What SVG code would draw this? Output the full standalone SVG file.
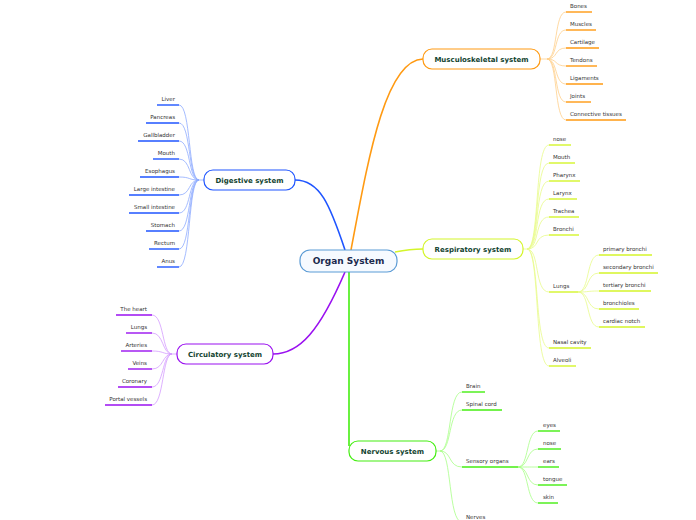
<svg xmlns="http://www.w3.org/2000/svg" width="696" height="520" viewBox="0 0 696 520">
<style>
text{font-family:"DejaVu Sans","Liberation Sans",sans-serif}
.root{fill:#f6faff;stroke:#5b9bd5;stroke-width:1.2}
.rt{font-size:9px;font-weight:bold;fill:#1b2a4e;text-anchor:middle}
.nt{font-size:7px;font-weight:bold;fill:#12432f;text-anchor:middle}
.lt{font-size:5.5px;fill:#333}
.le{text-anchor:end}
.box{fill:#fff;stroke-width:1.2}
.c{fill:none}
.m{stroke-width:1.6}
.l{stroke-width:0.8}
.u{stroke-width:1.4}
.or{stroke:#ff9a12}.orl{stroke:#ffcf8a}
.yg{stroke:#d4f52a}.ygl{stroke:#e8fb8a}
.bl{stroke:#1f55ff}.bll{stroke:#8eabff}
.pu{stroke:#9a10f0}.pul{stroke:#d49cff}
.gr{stroke:#44ee11}.grl{stroke:#a8ff88}
</style>
<g id="connectors" class="c">
<path class="m or" d="M351,250 C368,160 385,60 423,59"/>
<path class="m bl" d="M345,250 C330,205 320,180 295,180"/>
<path class="m yg" d="M395,252 C405,250 410,249 423,249"/>
<path class="m pu" d="M345,272 C320,330 300,354 273,354"/>
<path class="m gr" d="M349,272 L349,446"/>
<g class="orl l">
<path d="M540,59 H547"/>
<path d="M547,59 C558,59 554,12 566,12"/>
<path d="M547,59 C558,59 554,30 566,30"/>
<path d="M547,59 C558,59 554,48 566,48"/>
<path d="M547,59 C558,59 554,66 566,66"/>
<path d="M547,59 C558,59 554,84 566,84"/>
<path d="M547,59 C558,59 554,102 566,102"/>
<path d="M547,59 C558,59 554,120 566,120"/>
</g>
<g class="ygl l">
<path d="M523,249 H527"/>
<path d="M527,249 C540,249 534,145 549,145"/>
<path d="M527,249 C540,249 534,163 549,163"/>
<path d="M527,249 C540,249 534,181 549,181"/>
<path d="M527,249 C540,249 534,199 549,199"/>
<path d="M527,249 C540,249 534,217 549,217"/>
<path d="M527,249 C540,249 534,235 549,235"/>
<path d="M527,249 C540,249 534,292 549,292"/>
<path d="M527,249 C540,249 534,348 549,348"/>
<path d="M527,249 C540,249 534,366 549,366"/>
<path d="M578,292 C590,292 586,255 599,255"/>
<path d="M578,292 C590,292 586,273 599,273"/>
<path d="M578,292 C590,292 586,291 599,291"/>
<path d="M578,292 C590,292 586,309 599,309"/>
<path d="M578,292 C590,292 586,327 599,327"/>
</g>
<g class="bll l">
<path d="M204,180 H199"/>
<path d="M199,180 C188,180 191,105 179,105"/>
<path d="M199,180 C188,180 191,123 179,123"/>
<path d="M199,180 C188,180 191,141 179,141"/>
<path d="M199,180 C188,180 191,159 179,159"/>
<path d="M199,180 C188,180 191,177 179,177"/>
<path d="M199,180 C188,180 191,195 179,195"/>
<path d="M199,180 C188,180 191,213 179,213"/>
<path d="M199,180 C188,180 191,231 179,231"/>
<path d="M199,180 C188,180 191,249 179,249"/>
<path d="M199,180 C188,180 191,267 179,267"/>
</g>
<g class="pul l">
<path d="M177,354 H172"/>
<path d="M172,354 C162,354 164,315 152,315"/>
<path d="M172,354 C162,354 164,333 152,333"/>
<path d="M172,354 C162,354 164,351 152,351"/>
<path d="M172,354 C162,354 164,369 152,369"/>
<path d="M172,354 C162,354 164,387 152,387"/>
<path d="M172,354 C162,354 164,405 152,405"/>
</g>
<g class="grl l">
<path d="M436,451 H440"/>
<path d="M440,451 C452,451 448,392 462,392"/>
<path d="M440,451 C452,451 448,410 462,410"/>
<path d="M440,451 C452,451 448,467 462,467"/>
<path d="M440,451 C452,451 448,522 462,522"/>
<path d="M518,467 C529,467 526,431 538,431"/>
<path d="M518,467 C529,467 526,449 538,449"/>
<path d="M518,467 C529,467 526,467 538,467"/>
<path d="M518,467 C529,467 526,485 538,485"/>
<path d="M518,467 C529,467 526,503 538,503"/>
</g>
</g>
<g id="root"><rect class="root" x="300" y="250" width="97" height="22" rx="10"/><text class="rt" x="348.5" y="264.2">Organ System</text></g>
<g id="musculoskeletal"><rect class="box or" x="423" y="49" width="117" height="20" rx="9"/><text class="nt" x="481.5" y="61.5">Musculoskeletal system</text></g>
<g id="respiratory"><rect class="box yg" x="423" y="239" width="100" height="20" rx="9"/><text class="nt" x="473" y="251.5">Respiratory system</text></g>
<g id="digestive"><rect class="box bl" x="204" y="170" width="91" height="20" rx="9"/><text class="nt" x="249.5" y="182.5">Digestive system</text></g>
<g id="circulatory"><rect class="box pu" x="177" y="344" width="96" height="20" rx="9"/><text class="nt" x="225" y="356.5">Circulatory system</text></g>
<g id="nervous"><rect class="box gr" x="349" y="441" width="87" height="20" rx="9"/><text class="nt" x="392.5" y="453.5">Nervous system</text></g>
<g id="musc-leaves" class="c">
<g id="bones"><path class="u or" d="M566,12 H592"/><text class="lt" x="570" y="8">Bones</text></g>
<g id="muscles"><path class="u or" d="M566,30 H596"/><text class="lt" x="570" y="26">Muscles</text></g>
<g id="cartilage"><path class="u or" d="M566,48 H599"/><text class="lt" x="570" y="44">Cartilage</text></g>
<g id="tendons"><path class="u or" d="M566,66 H597"/><text class="lt" x="570" y="62">Tendons</text></g>
<g id="ligaments"><path class="u or" d="M566,84 H603"/><text class="lt" x="570" y="80">Ligaments</text></g>
<g id="joints"><path class="u or" d="M566,102 H591"/><text class="lt" x="570" y="98">Joints</text></g>
<g id="connective"><path class="u or" d="M566,120 H626"/><text class="lt" x="570" y="116">Connective tissues</text></g>
</g>
<g id="resp-leaves" class="c">
<g id="r-nose"><path class="u yg" d="M549,145 H571"/><text class="lt" x="553" y="141">nose</text></g>
<g id="r-mouth"><path class="u yg" d="M549,163 H575"/><text class="lt" x="553" y="159">Mouth</text></g>
<g id="pharynx"><path class="u yg" d="M549,181 H580"/><text class="lt" x="553" y="177">Pharynx</text></g>
<g id="larynx"><path class="u yg" d="M549,199 H577"/><text class="lt" x="553" y="195">Larynx</text></g>
<g id="trachea"><path class="u yg" d="M549,217 H579"/><text class="lt" x="553" y="213">Trachea</text></g>
<g id="bronchi"><path class="u yg" d="M549,235 H579"/><text class="lt" x="553" y="231">Bronchi</text></g>
<g id="r-lungs"><path class="u yg" d="M549,292 H578"/><text class="lt" x="553" y="288">Lungs</text></g>
<g id="nasal"><path class="u yg" d="M549,348 H591"/><text class="lt" x="553" y="344">Nasal cavity</text></g>
<g id="alveoli"><path class="u yg" d="M549,366 H576"/><text class="lt" x="553" y="362">Alveoli</text></g>
<g id="primary"><path class="u yg" d="M599,255 H652"/><text class="lt" x="603" y="251">primary bronchi</text></g>
<g id="secondary"><path class="u yg" d="M599,273 H658"/><text class="lt" x="603" y="269">secondary bronchi</text></g>
<g id="tertiary"><path class="u yg" d="M599,291 H651"/><text class="lt" x="603" y="287">tertiary bronchi</text></g>
<g id="bronchioles"><path class="u yg" d="M599,309 H639"/><text class="lt" x="603" y="305">bronchioles</text></g>
<g id="cardiac"><path class="u yg" d="M599,327 H645"/><text class="lt" x="603" y="323">cardiac notch</text></g>
</g>
<g id="dig-leaves" class="c">
<g id="liver"><path class="u bl" d="M157,105 H179"/><text class="lt le" x="175" y="101">Liver</text></g>
<g id="pancreas"><path class="u bl" d="M146,123 H179"/><text class="lt le" x="175" y="119">Pancreas</text></g>
<g id="gallbladder"><path class="u bl" d="M138,141 H179"/><text class="lt le" x="175" y="137">Gallbladder</text></g>
<g id="d-mouth"><path class="u bl" d="M153,159 H179"/><text class="lt le" x="175" y="155">Mouth</text></g>
<g id="esophagus"><path class="u bl" d="M140,177 H179"/><text class="lt le" x="175" y="173">Esophagus</text></g>
<g id="large"><path class="u bl" d="M129,195 H179"/><text class="lt le" x="175" y="191">Large intestine</text></g>
<g id="small"><path class="u bl" d="M129,213 H179"/><text class="lt le" x="175" y="209">Small intestine</text></g>
<g id="stomach"><path class="u bl" d="M146,231 H179"/><text class="lt le" x="175" y="227">Stomach</text></g>
<g id="rectum"><path class="u bl" d="M149,249 H179"/><text class="lt le" x="175" y="245">Rectum</text></g>
<g id="anus"><path class="u bl" d="M157,267 H179"/><text class="lt le" x="175" y="263">Anus</text></g>
</g>
<g id="circ-leaves" class="c">
<g id="heart"><path class="u pu" d="M116,315 H152"/><text class="lt le" x="147" y="311">The heart</text></g>
<g id="c-lungs"><path class="u pu" d="M126,333 H152"/><text class="lt le" x="147" y="329">Lungs</text></g>
<g id="arteries"><path class="u pu" d="M121,351 H152"/><text class="lt le" x="147" y="347">Arteries</text></g>
<g id="veins"><path class="u pu" d="M128,369 H152"/><text class="lt le" x="147" y="365">Veins</text></g>
<g id="coronary"><path class="u pu" d="M118,387 H152"/><text class="lt le" x="147" y="383">Coronary</text></g>
<g id="portal"><path class="u pu" d="M105,405 H152"/><text class="lt le" x="147" y="401">Portal vessels</text></g>
</g>
<g id="nerv-leaves" class="c">
<g id="brain"><path class="u gr" d="M462,392 H485"/><text class="lt" x="466" y="388">Brain</text></g>
<g id="spinal"><path class="u gr" d="M462,410 H502"/><text class="lt" x="466" y="406">Spinal cord</text></g>
<g id="sensory"><path class="u gr" d="M462,467 H518"/><text class="lt" x="466" y="463">Sensory organs</text></g>
<g id="nerves"><path class="u gr" d="M462,522 H490"/><text class="lt" x="466" y="518.5">Nerves</text></g>
<g id="eyes"><path class="u gr" d="M538,431 H560"/><text class="lt" x="543" y="427">eyes</text></g>
<g id="s-nose"><path class="u gr" d="M538,449 H561"/><text class="lt" x="543" y="445">nose</text></g>
<g id="ears"><path class="u gr" d="M538,467 H559"/><text class="lt" x="543" y="463">ears</text></g>
<g id="tongue"><path class="u gr" d="M538,485 H567"/><text class="lt" x="543" y="481">tongue</text></g>
<g id="skin"><path class="u gr" d="M538,503 H558"/><text class="lt" x="543" y="499">skin</text></g>
</g>
</svg>
